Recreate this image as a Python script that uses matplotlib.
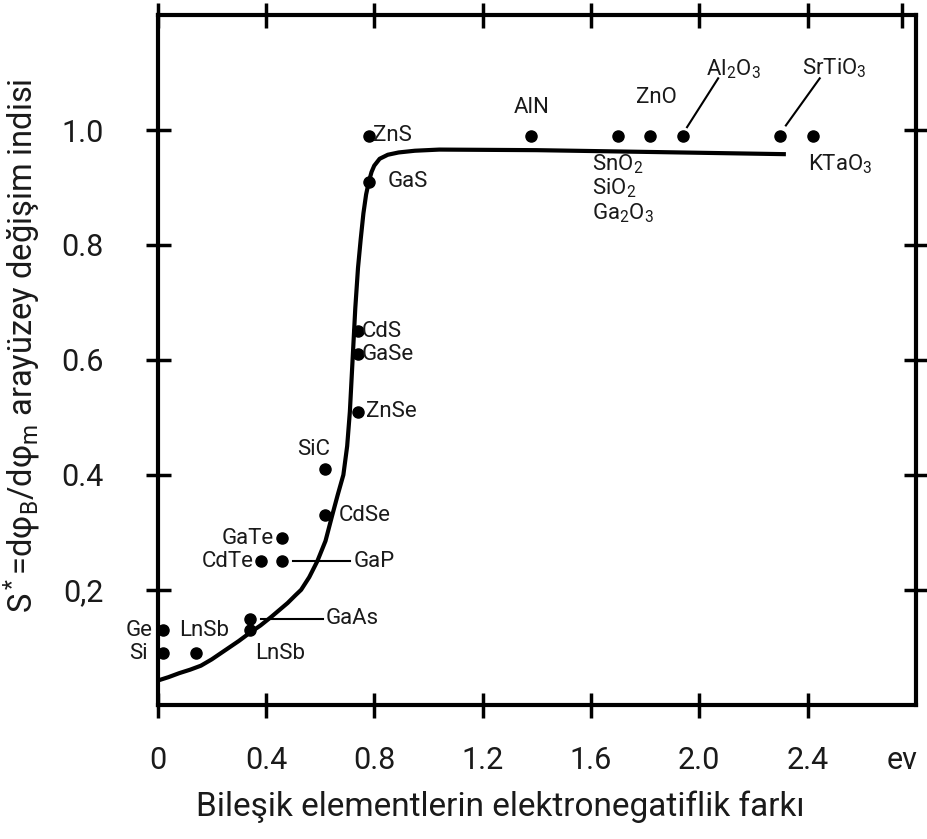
import numpy as np
import matplotlib
matplotlib.use("Agg")
import matplotlib.pyplot as plt
from matplotlib import font_manager

# ================= DATA ================= #
names = ["ZnS", "GaS", "AlN", "SnO2", "ZnO", "Al2O3", "SrTiO3", "KTaO3",
         "CdS", "GaSe", "ZnSe", "SiC", "CdSe", "GaTe", "CdTe", "GaP",
         "GaAs", "LnSb_low", "Ge", "Si", "LnSb"]
x_vals = [0.78, 0.78, 1.38, 1.70, 1.82, 1.94, 2.30, 2.42,
          0.74, 0.74, 0.74, 0.62, 0.62, 0.46, 0.38, 0.46,
          0.34, 0.34, 0.02, 0.02, 0.14]
y_vals = [0.99, 0.91, 0.99, 0.99, 0.99, 0.99, 0.99, 0.99,
          0.65, 0.61, 0.51, 0.41, 0.33, 0.29, 0.25, 0.25,
          0.15, 0.13, 0.13, 0.09, 0.09]

curve_x = [0.0, 0.04, 0.08, 0.12, 0.16, 0.20, 0.25, 0.30, 0.34, 0.38, 0.42, 0.45,
           0.48, 0.51, 0.53, 0.56, 0.59, 0.62, 0.645, 0.665, 0.686, 0.70, 0.71,
           0.72, 0.73, 0.74, 0.75, 0.76, 0.77, 0.78, 0.79, 0.80, 0.82, 0.85,
           0.89, 0.95, 1.04, 1.4, 1.8, 2.32]
curve_y = [0.042, 0.048, 0.055, 0.061, 0.068, 0.079, 0.095, 0.111, 0.125, 0.138, 0.153, 0.165,
           0.177, 0.191, 0.20, 0.222, 0.25, 0.285, 0.33, 0.365, 0.40, 0.45, 0.51,
           0.60, 0.69, 0.76, 0.81, 0.855, 0.888, 0.91, 0.927, 0.938, 0.950, 0.957,
           0.961, 0.964, 0.966, 0.965, 0.962, 0.958]

x_ticks = [0, 0.4, 0.8, 1.2, 1.6, 2.0, 2.4]
x_tick_labels = ["0", "0.4", "0.8", "1.2", "1.6", "2.0", "2.4"]
y_ticks = [0.2, 0.4, 0.6, 0.8, 1.0]
y_tick_labels = ["0,2", "0.4", "0.6", "0.8", "1.0"]

# ================= STYLE ================= #
avail = {f.name for f in font_manager.fontManager.ttflist}
fam = "DejaVu Sans"
for cand in ["Roboto", "Lato", "Open Sans", "Liberation Sans"]:
    if cand in avail:
        fam = cand
        break

plt.rcParams["font.family"] = [fam, "DejaVu Sans"]
plt.rcParams["font.weight"] = "normal"
plt.rcParams["mathtext.fontset"] = "custom"
plt.rcParams["mathtext.rm"] = fam
plt.rcParams["mathtext.it"] = fam
plt.rcParams["mathtext.default"] = "rm"

fig = plt.figure(figsize=(9.27, 8.39), dpi=100)
ax = fig.add_axes([0.170, 0.160, 0.818, 0.822])

ax.plot(curve_x, curve_y, color="black", lw=3, solid_capstyle="butt",
        solid_joinstyle="round", zorder=2)
ax.plot(x_vals, y_vals, "o", color="black", ms=8, zorder=3)

# ================= LABELS ================= #
lab = dict(fontsize=16, color="#1a1a1a")
ax.text(0.795, 0.99, "ZnS", ha="left", va="center", **lab)
ax.text(0.85, 0.91, "GaS", ha="left", va="center", **lab)
ax.text(1.38, 1.04, "AlN", ha="center", va="center", **lab)
ax.text(1.84, 1.057, "ZnO", ha="center", va="center", **lab)
ax.text(2.125, 1.105, "Al$_2$O$_3$", ha="center", va="center", **lab)
ax.text(2.50, 1.107, "SrTiO$_3$", ha="center", va="center", **lab)
ax.text(1.605, 0.94, "SnO$_2$", ha="left", va="center", **lab)
ax.text(1.605, 0.898, "SiO$_2$", ha="left", va="center", **lab)
ax.text(1.605, 0.856, "Ga$_2$O$_3$", ha="left", va="center", **lab)
ax.text(2.40, 0.94, "KTaO$_3$", ha="left", va="center", **lab)
ax.text(0.755, 0.65, "CdS", ha="left", va="center", **lab)
ax.text(0.755, 0.61, "GaSe", ha="left", va="center", **lab)
ax.text(0.77, 0.51, "ZnSe", ha="left", va="center", **lab)
ax.text(0.575, 0.445, "SiC", ha="center", va="center", **lab)
ax.text(0.67, 0.33, "CdSe", ha="left", va="center", **lab)
ax.text(0.43, 0.29, "GaTe", ha="right", va="center", **lab)
ax.text(0.355, 0.25, "CdTe", ha="right", va="center", **lab)
ax.text(0.725, 0.25, "GaP", ha="left", va="center", **lab)
ax.text(0.62, 0.15, "GaAs", ha="left", va="center", **lab)
ax.text(0.36, 0.09, "LnSb", ha="left", va="center", **lab)
ax.text(-0.02, 0.13, "Ge", ha="right", va="center", **lab)
ax.text(-0.035, 0.09, "Si", ha="right", va="center", **lab)
ax.text(0.08, 0.13, "LnSb", ha="left", va="center", **lab)

# leader lines
ax.plot([0.50, 0.71], [0.25, 0.25], color="black", lw=1.5)
ax.plot([0.38, 0.61], [0.15, 0.15], color="black", lw=1.5)
ax.plot([1.955, 2.07], [1.005, 1.09], color="black", lw=1.5)
ax.plot([2.32, 2.445], [1.008, 1.09], color="black", lw=1.5)

# ================= AXES ================= #
ax.set_xlim(0, 2.8)
ax.set_ylim(0, 1.2)
for s in ax.spines.values():
    s.set_linewidth(3)

ax.set_xticks(x_ticks + [2.75])
ax.set_xticklabels(x_tick_labels + ["ev"])
ax.set_yticks(y_ticks)
ax.set_yticklabels(y_tick_labels)
last = ax.xaxis.get_major_ticks()[-1]
last.tick1line.set_visible(False)
last.tick2line.set_visible(False)

ax.tick_params(axis="both", which="major", direction="inout", length=18, width=2.5,
               top=True, right=True, labelsize=22, labelcolor="#1a1a1a")
ax.tick_params(axis="x", pad=21)
ax.tick_params(axis="y", pad=30)

ax.set_xlabel("Bileşik elementlerin elektronegatiflik farkı", fontsize=24,
              color="#1a1a1a")
ax.xaxis.set_label_coords(0.452, -0.125)
ax.set_ylabel("S$^*$=dφ$_B$/dφ$_m$ arayüzey değişim indisi", fontsize=23.5,
              color="#1a1a1a")
ax.yaxis.set_label_coords(-0.152, 0.52)

fig.savefig("out.png", dpi=100)
